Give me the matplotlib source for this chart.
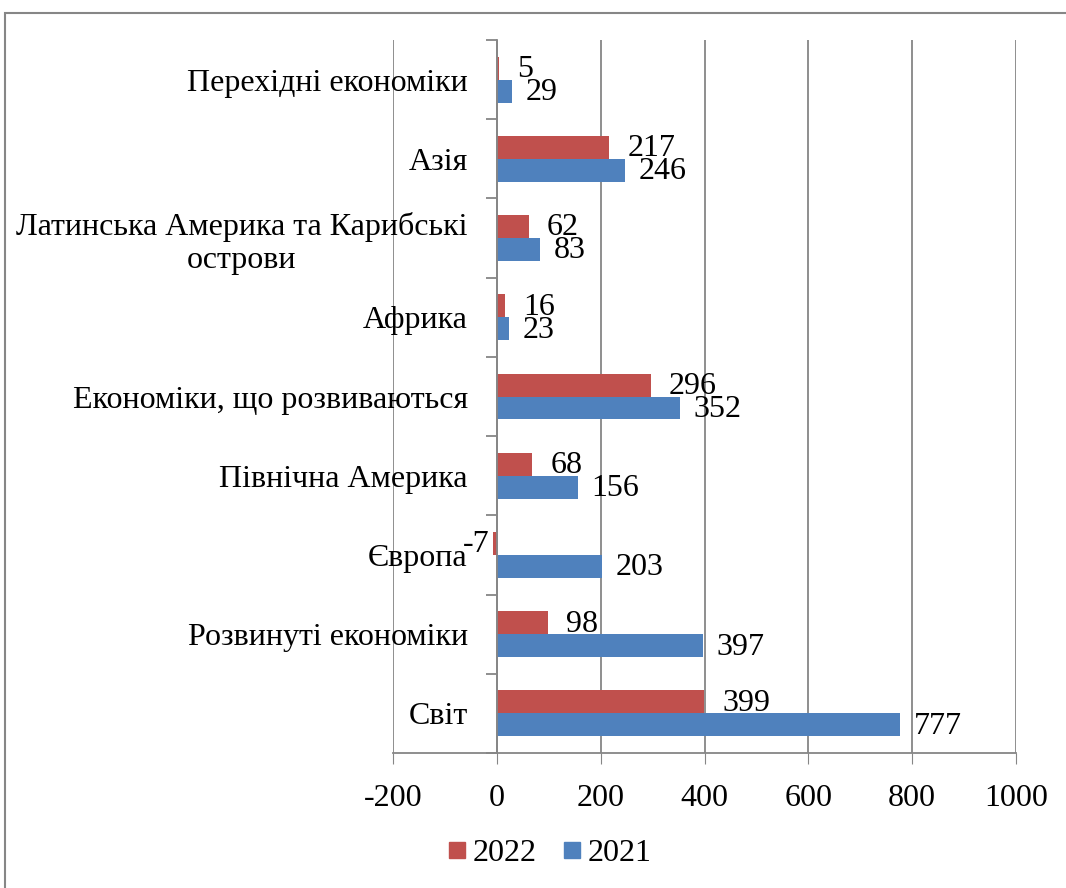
import matplotlib.pyplot as plt
import numpy as np
from matplotlib.patches import Rectangle
from matplotlib.lines import Line2D

# Дані (знизу вгору, як на графіку)
categories = ['Світ', 'Розвинуті економіки', 'Європа', 'Північна Америка',
              'Економіки, що розвиваються', 'Африка',
              'Латинська Америка та Карибські\nострови', 'Азія',
              'Перехідні економіки']
values_2022 = [399, 98, -7, 68, 296, 16, 62, 217, 5]
values_2021 = [777, 397, 203, 156, 352, 23, 83, 246, 29]

red = '#C0504D'
blue = '#4F81BD'
grid_col = '#868686'

plt.rcParams['font.family'] = ['Liberation Serif', 'DejaVu Serif']
plt.rcParams['axes.unicode_minus'] = False
fs = 23

fig = plt.figure(figsize=(10.66, 8.88), dpi=100)
ax = fig.add_axes([393 / 1066, 1 - 753 / 888, (1016 - 393) / 1066, (753 - 40) / 888])

y = np.arange(len(categories))
h = 0.29
ax.barh(y + h / 2, values_2022, height=h, color=red, zorder=3)
ax.barh(y - h / 2, values_2021, height=h, color=blue, zorder=3)

# підписи значень
for yi, v in zip(y, values_2022):
    off = 13 if v >= 0 else -3
    ax.annotate(f'{v}', (v, yi + h / 2), xytext=(off, -1), textcoords='offset points',
                ha='left' if v >= 0 else 'right', va='center', fontsize=fs, zorder=5)
for yi, v in zip(y, values_2021):
    ax.annotate(f'{v}', (v, yi - h / 2), xytext=(10, -1), textcoords='offset points',
                ha='left', va='center', fontsize=fs, zorder=5)

ax.set_xlim(-200, 1000)
ax.set_ylim(-0.5, len(categories) - 0.5)
ax.set_xticks(np.arange(-200, 1001, 200))
ax.tick_params(axis='x', labelsize=fs, length=8, color=grid_col, pad=14)
ax.grid(axis='x', color=grid_col, linewidth=1.3, zorder=0)

# вісь категорій у нулі
for s in ['top', 'right']:
    ax.spines[s].set_visible(False)
ax.spines['left'].set_position(('data', 0))
ax.spines['left'].set_color(grid_col)
ax.spines['left'].set_linewidth(1.3)
ax.spines['left'].set_zorder(4)
ax.spines['bottom'].set_color(grid_col)
ax.spines['bottom'].set_linewidth(1.3)
ax.set_yticks(y)
ax.set_yticklabels(categories)
ax.set_yticks(np.arange(-0.5, len(categories), 1), minor=True)
ax.tick_params(axis='y', which='major', length=0, pad=21, labelsize=fs)
ax.tick_params(axis='y', which='minor', length=8, color=grid_col, width=1.3)
for lab in ax.get_yticklabels():
    lab.set_multialignment('center')

handles = [Line2D([], [], marker='s', linestyle='', color=red, markersize=12),
           Line2D([], [], marker='s', linestyle='', color=blue, markersize=12)]
fig.legend(handles, ['2022', '2021'], loc='center', bbox_to_anchor=(548 / 1066, 1 - 853 / 888),
           ncol=2, frameon=False, fontsize=fs, handletextpad=0.1, columnspacing=0.7,
           handlelength=0.8)

fig.patches.append(Rectangle((5 / 1066, -0.1), 1.2, 1 - 13 / 888 + 0.1,
                             transform=fig.transFigure, fill=False,
                             edgecolor=grid_col, linewidth=1.5))

plt.savefig('out.png', dpi=100)
